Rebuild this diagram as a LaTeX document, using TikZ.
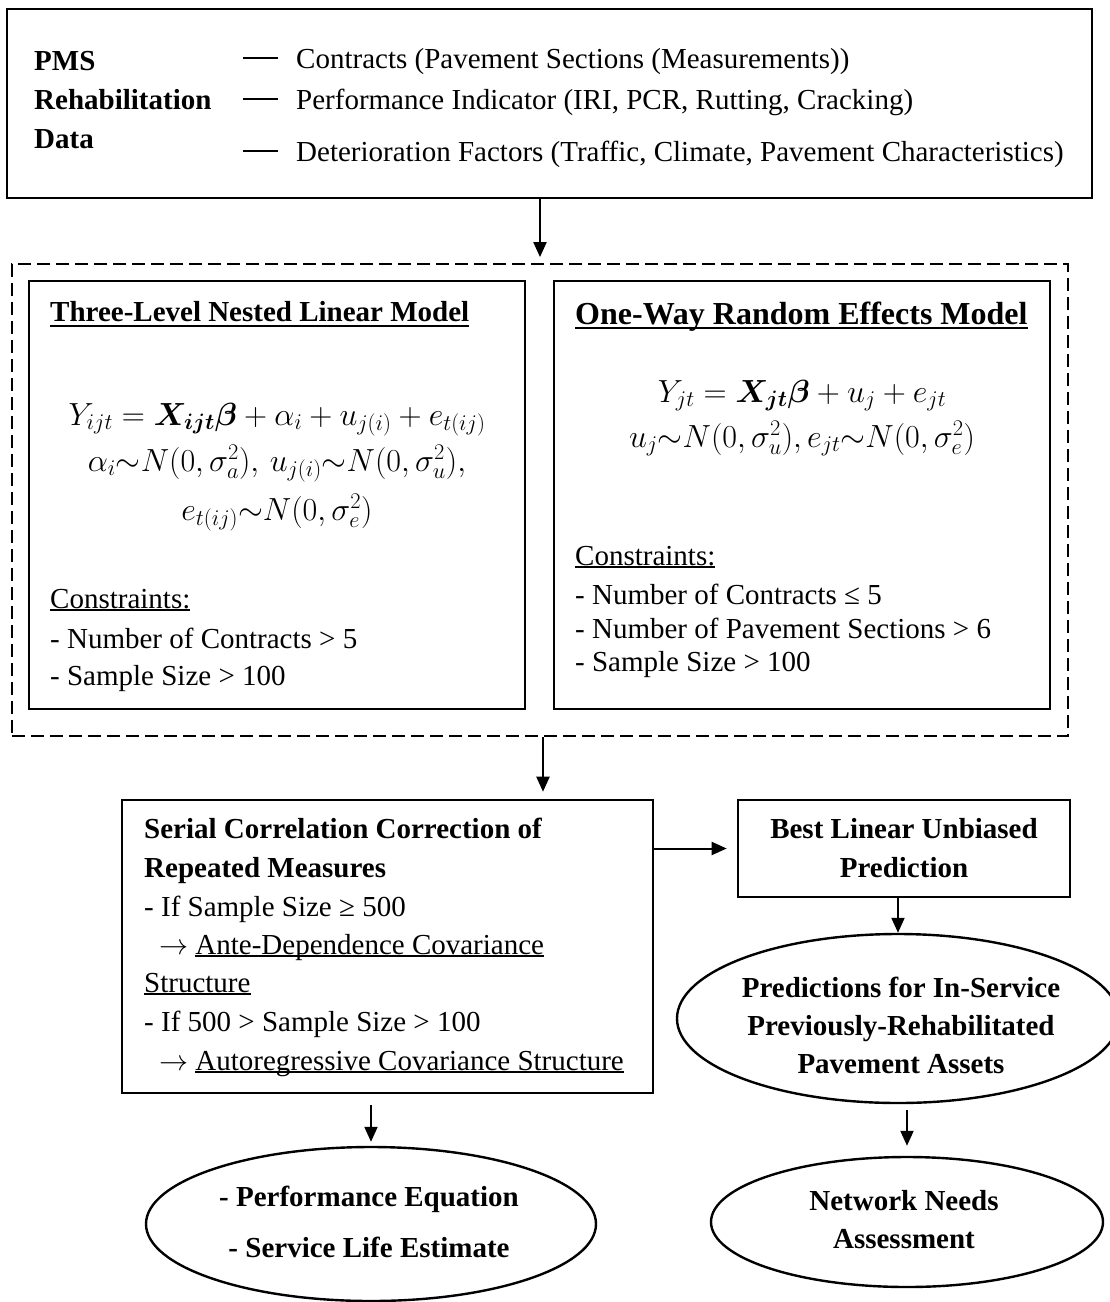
\RequirePackage{fix-cm}
\documentclass[tikz,border=0pt]{standalone}
\usepackage{fontspec}
\setmainfont{Liberation Serif}
\usepackage{amsmath,bm}
\usetikzlibrary{arrows.meta,shapes.geometric,calc}

% underline with a chosen gap below the baseline
\newsavebox{\ulbox}
\newcommand{\ulat}[2]{\sbox{\ulbox}{#2}\rlap{\rule[-#1]{\wd\ulbox}{2pt}}\usebox{\ulbox}}
% arrow used in front of the covariance structures
\newcommand{\goesto}{$\rightarrow$}

\tikzset{
  box/.style={draw, line width=2.6pt, rectangle, inner sep=0pt},
  oval/.style={draw, line width=2.4pt, ellipse, inner sep=0pt},
  group/.style={draw, line width=1.8pt, dash pattern=on 13pt off 6pt, rectangle, inner sep=0pt},
  txt/.style={inner sep=0pt, anchor=base west, font=\fontsize{29}{34}\selectfont},
  btxt/.style={txt, font=\fontsize{29}{34}\selectfont\bfseries},
  ctxt/.style={inner sep=0pt, anchor=base, font=\fontsize{29}{34}\selectfont\bfseries},
  eq/.style={inner sep=0pt, anchor=base, font=\fontsize{32}{38}\selectfont},
  arr/.style={line width=2pt, -{Triangle[length=15pt,width=13pt]}},
  tick/.style={line width=2pt},
}

\begin{document}
\begin{tikzpicture}[x=1pt, y=-1pt]
\useasboundingbox (0,0) rectangle (1110,1302);

% ---------- input data ----------
\node[box, minimum width=1085pt, minimum height=189pt] (data) at (549.5,103.5) {};
\node[btxt] (pms)   at (34,70)  {PMS};
\node[btxt] (rehab) at (34,109) {Rehabilitation};
\node[btxt] (dlbl)  at (34,148) {Data};
\node[txt] (item1) at (296,68)  {Contracts (Pavement Sections (Measurements))};
\node[txt] (item2) at (296,109) {Performance Indicator (IRI, PCR, Rutting, Cracking)};
\node[txt] (item3) at (296,161) {Deterioration Factors (Traffic, Climate, Pavement Characteristics)};
\foreach \i in {item1,item2,item3}
  \draw[tick] ($(\i.base west)+(-53,-10)$) -- ($(\i.base west)+(-18,-10)$);

% ---------- model selection ----------
\node[group, minimum width=1056pt, minimum height=472pt] (models) at (540,500) {};
\node[box, minimum width=496pt, minimum height=428pt] (nested) at (277,495) {};
\node[box, minimum width=496pt, minimum height=428pt] (oneway) at (802,495) {};

\node[btxt] (ntitle) at (50,321) {\ulat{6pt}{Three-Level Nested Linear Model}};
\node[eq] (neq1) at (277,425) {$Y_{ijt}=\bm{X}_{\bm{ijt}}\bm{\beta}+\alpha_i+u_{j(i)}+e_{t(ij)}$};
\node[eq] (neq2) at (277,471) {$\alpha_i{\sim}N(0,\sigma_a^2),\,u_{j(i)}{\sim}N(0,\sigma_u^2),$};
\node[eq] (neq3) at (277,520) {$e_{t(ij)}{\sim}N(0,\sigma_e^2)$};
\node[txt] (ncons) at (50,608) {\ulat{3pt}{Constraints:}};
\node[txt] (nc1) at (50,648) {- Number of Contracts > 5};
\node[txt] (nc2) at (50,685) {- Sample Size > 100};

\node[btxt, font=\fontsize{32}{38}\selectfont\bfseries] (otitle) at (575,324) {\ulat{5pt}{One-Way Random Effects Model}};
\node[eq] (oeq1) at (802,402) {$Y_{jt}=\bm{X}_{\bm{jt}}\bm{\beta}+u_j+e_{jt}$};
\node[eq] (oeq2) at (802,447) {$u_j{\sim}N(0,\sigma_u^2),e_{jt}{\sim}N(0,\sigma_e^2)$};
\node[txt] (ocons) at (575,565) {\ulat{3pt}{Constraints:}};
\node[txt] (oc1) at (575,604) {- Number of Contracts ≤ 5};
\node[txt] (oc2) at (575,638) {- Number of Pavement Sections > 6};
\node[txt] (oc3) at (575,671) {- Sample Size > 100};

% ---------- serial correlation ----------
\node[box, minimum width=531pt, minimum height=293pt] (serial) at (387.5,946.5) {};
\node[btxt] (s1) at (144,838)  {Serial Correlation Correction of};
\node[btxt] (s2) at (144,877)  {Repeated Measures};
\node[txt]  (s3) at (144,916)  {- If Sample Size ≥ 500};
\node[txt]  (s4) at (159,954)  {\goesto{} \ulat{3pt}{Ante-Dependence Covariance}};
\node[txt]  (s5) at (144,992)  {\ulat{3pt}{Structure}};
\node[txt]  (s6) at (144,1031) {- If 500 > Sample Size > 100};
\node[txt]  (s7) at (159,1070) {\goesto{} \ulat{3pt}{Autoregressive Covariance Structure}};

% ---------- prediction branch ----------
\node[box, minimum width=332pt, minimum height=97pt] (blup) at (904,848.5) {};
\node[ctxt] (b1) at (904,838) {Best Linear Unbiased};
\node[ctxt] (b2) at (904,877) {Prediction};

\node[oval, minimum width=442pt, minimum height=169pt] (pred) at (898,1018.5) {};
\node[ctxt] (p1) at (901,997)  {Predictions for In-Service};
\node[ctxt] (p2) at (901,1035) {Previously-Rehabilitated};
\node[ctxt] (p3) at (901,1073) {Pavement Assets};

\node[oval, minimum width=450pt, minimum height=154pt] (perf) at (371,1224) {};
\node[ctxt] (f1) at (369,1206) {- Performance Equation};
\node[ctxt] (f2) at (369,1257) {- Service Life Estimate};

\node[oval, minimum width=392pt, minimum height=130pt] (needs) at (907,1222) {};
\node[ctxt] (n1) at (904,1210) {Network Needs};
\node[ctxt] (n2) at (904,1248) {Assessment};

% ---------- connectors ----------
\draw[arr, shorten >=6pt] (data.south -| models.north) -- (models.north);
\draw[arr, shorten >=7pt] ([xshift=3pt]models.south) -- ([xshift=3pt]models.south |- serial.north);
\draw[arr, shorten >=10pt] (blup.west -| serial.east) -- (blup.west);
\draw[arr] (blup.south -| pred.north) -- (pred.north);
\draw[arr, shorten <=11pt, shorten >=4pt] (serial.south -| perf.north) -- (perf.north);
\draw[arr, shorten <=6pt, shorten >=10pt] (pred.south -| needs.north) -- (needs.north);
\end{tikzpicture}
\end{document}
